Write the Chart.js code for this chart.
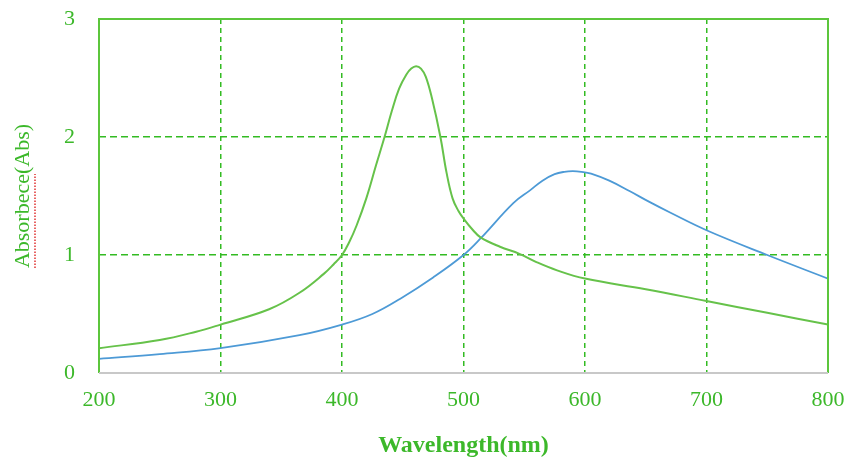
<!DOCTYPE html>
<html>
<head>
<meta charset="utf-8">
<script src="https://cdn.jsdelivr.net/npm/chart.js@4.4.1/dist/chart.umd.min.js"></script>
<style>
  html, body { margin: 0; padding: 0; background: #fff; }
  #wrap { width: 851px; height: 459px; }
</style>
</head>
<body>
<div id="wrap"><canvas id="c" width="851" height="459"></canvas></div>
<script>
'use strict';

// данные спектров
const greenWave = [200, 250, 280, 300, 340, 365, 385, 393, 400, 406, 412, 420, 428, 435, 441, 447, 453, 457, 461, 465, 469, 474, 481, 486, 491, 496, 500, 507, 514, 530, 546, 560, 577, 600, 650, 700, 750, 800];
const greenAbs  = [0.21, 0.28, 0.35, 0.41, 0.54, 0.68, 0.84, 0.92, 1.00, 1.11, 1.25, 1.48, 1.76, 2.00, 2.22, 2.41, 2.53, 2.58, 2.60, 2.58, 2.51, 2.33, 2.00, 1.70, 1.48, 1.37, 1.31, 1.22, 1.15, 1.07, 1.01, 0.94, 0.87, 0.80, 0.71, 0.61, 0.51, 0.41];
const blueWave  = [200, 250, 300, 365, 400, 425, 448, 475, 500, 514, 541, 555, 565, 575, 583, 590, 597, 605, 620, 637, 653, 670, 700, 750, 800];
const blueAbs   = [0.12, 0.16, 0.21, 0.32, 0.41, 0.50, 0.63, 0.81, 1.00, 1.14, 1.44, 1.55, 1.63, 1.685, 1.705, 1.71, 1.705, 1.69, 1.63, 1.54, 1.45, 1.36, 1.21, 1.00, 0.80];
const xTicks = [200, 300, 400, 500, 600, 700, 800];
const yTicks = [0, 1, 2, 3];

const GREEN_TEXT = '#3cb82a';
const GRID = '#33bb22';
const FRAME = '#5cc63c';
const FONT = '"Liberation Serif", "Times New Roman", serif';

function toPoints(xs, ys) {
    return xs.map((x, i) => ({ x: x, y: ys[i] }));
}

// рамка: зелёная слева, сверху, справа; снизу серая
const framePlugin = {
    id: 'frame',
    afterDatasetsDraw(chart) {
        const a = chart.chartArea;
        const ctx = chart.ctx;
        ctx.save();
        ctx.lineWidth = 2;
        ctx.strokeStyle = FRAME;
        ctx.beginPath();
        ctx.moveTo(a.left, a.bottom);
        ctx.lineTo(a.left, a.top);
        ctx.lineTo(a.right, a.top);
        ctx.lineTo(a.right, a.bottom);
        ctx.stroke();
        ctx.strokeStyle = '#c8c8c8';
        ctx.beginPath();
        ctx.moveTo(a.left, a.bottom);
        ctx.lineTo(a.right, a.bottom);
        ctx.stroke();
        ctx.restore();
    },
    afterDraw(chart) {
        // красное подчёркивание под словом "Absorbece" (как у проверки орфографии)
        const a = chart.chartArea;
        const ctx = chart.ctx;
        ctx.save();
        ctx.font = '22px ' + FONT;
        const full = ctx.measureText('Absorbece(Abs)').width;
        const word = ctx.measureText('Absorbece').width;
        const cy = (a.top + a.bottom) / 2;
        const y0 = cy + full / 2;
        const y1 = y0 - word;
        ctx.strokeStyle = '#e03030';
        ctx.lineWidth = 1.5;
        ctx.setLineDash([1.5, 1.5]);
        ctx.beginPath();
        ctx.moveTo(35, y0);
        ctx.lineTo(35, y1);
        ctx.stroke();
        ctx.restore();
    }
};

const ctx = document.getElementById('c').getContext('2d');
new Chart(ctx, {
    type: 'line',
    data: {
        datasets: [
            {
                data: toPoints(greenWave, greenAbs),
                borderColor: '#66c24a',
                borderWidth: 2,
                pointRadius: 0,
                tension: 0.4,
                fill: false,
            },
            {
                data: toPoints(blueWave, blueAbs),
                borderColor: '#4d9ad6',
                borderWidth: 1.8,
                pointRadius: 0,
                tension: 0.4,
                fill: false,
            },
        ],
    },
    options: {
        responsive: false,
        animation: false,
        layout: { padding: { top: 19, right: 23, left: 0, bottom: 0 } },
        plugins: {
            legend: { display: false },
            tooltip: { enabled: false },
        },
        scales: {
            x: {
                type: 'linear',
                min: 200,
                max: 800,
                afterBuildTicks(scale) {
                    scale.ticks = xTicks.map((v) => ({ value: v }));
                },
                afterFit(scale) {
                    scale.height = 86;
                    scale.paddingLeft = 0;
                    scale.paddingRight = 0;
                },
                grid: {
                    drawTicks: false,
                    color: (c) => (c.tick && (c.tick.value === 200 || c.tick.value === 800)) ? 'rgba(0,0,0,0)' : GRID,
                    lineWidth: 1.5,
                },
                border: { display: false, dash: [5, 4] },
                ticks: {
                    color: GREEN_TEXT,
                    padding: 14,
                    maxRotation: 0,
                    font: { family: FONT, size: 22 },
                },
                title: {
                    display: true,
                    text: 'Wavelength(nm)',
                    color: GREEN_TEXT,
                    padding: { top: 0, bottom: 0 },
                    font: { family: FONT, size: 24, weight: 'bold', lineHeight: 1.1 },
                },
            },
            y: {
                min: 0,
                max: 3,
                afterBuildTicks(scale) {
                    scale.ticks = yTicks.map((v) => ({ value: v }));
                },
                afterFit(scale) {
                    scale.width = 99;
                    scale.paddingTop = 0;
                    scale.paddingBottom = 0;
                },
                grid: {
                    drawTicks: false,
                    color: (c) => (c.tick && (c.tick.value === 0 || c.tick.value === 3)) ? 'rgba(0,0,0,0)' : GRID,
                    lineWidth: 1.5,
                },
                border: { display: false, dash: [7, 4] },
                ticks: {
                    color: GREEN_TEXT,
                    padding: 24,
                    font: { family: FONT, size: 22 },
                },
                title: {
                    display: true,
                    text: 'Absorbece(Abs)',
                    color: GREEN_TEXT,
                    padding: { top: 10, bottom: 0 },
                    font: { family: FONT, size: 22 },
                },
            },
        },
    },
    plugins: [framePlugin],
});
</script>
</body>
</html>
